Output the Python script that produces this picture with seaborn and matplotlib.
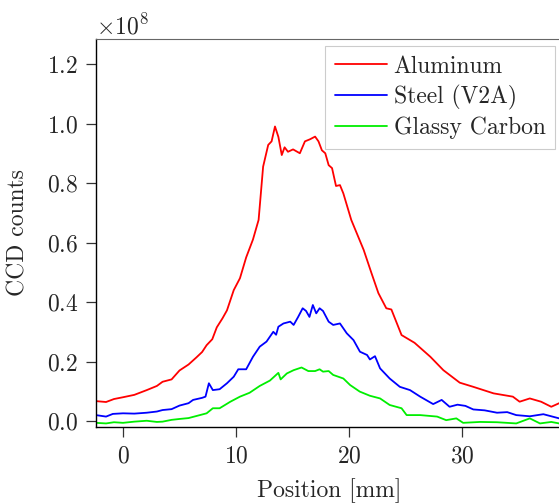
import matplotlib
matplotlib.use("Agg")
import matplotlib.pyplot as plt
import seaborn as sns
import numpy as np
import pandas as pd

# Values (counts in units of 1e8)
alu_x = [-2.4, -1.5, -0.8, 0.0, 1.0, 2.1, 3.0, 3.5, 4.3, 5.0, 5.8, 6.5, 7.0, 7.4, 7.9,
         8.3, 8.8, 9.2, 9.8, 10.35, 10.9, 11.5, 12.0, 12.4, 12.85, 13.15, 13.45, 13.75,
         14.05, 14.3, 14.6, 15.05, 15.65, 16.1, 16.55, 17.0, 17.3, 17.6, 17.9, 18.2,
         18.5, 18.85, 19.2, 19.5, 20.2, 21.3, 22.0, 22.6, 23.3, 23.75, 24.65, 25.8,
         27.2, 28.35, 29.8, 31.0, 32.8, 34.5, 35.1, 36.0, 37.0, 37.9, 38.6]
alu_y = [0.067, 0.064, 0.074, 0.080, 0.088, 0.104, 0.118, 0.132, 0.140, 0.170, 0.190,
         0.214, 0.232, 0.255, 0.275, 0.315, 0.345, 0.372, 0.44, 0.48, 0.55, 0.61, 0.676,
         0.855, 0.928, 0.94, 0.99, 0.955, 0.894, 0.92, 0.905, 0.913, 0.90, 0.94, 0.947,
         0.956, 0.94, 0.91, 0.90, 0.86, 0.85, 0.79, 0.793, 0.765, 0.676, 0.575, 0.496,
         0.43, 0.379, 0.375, 0.289, 0.263, 0.216, 0.171, 0.129, 0.115, 0.093, 0.082,
         0.065, 0.076, 0.065, 0.048, 0.06]

steel_x = [-2.4, -1.5, -0.9, 0.0, 1.0, 2.1, 3.0, 3.5, 4.3, 5.0, 5.8, 6.2, 7.0, 7.3, 7.6,
           7.95, 8.55, 9.2, 9.8, 10.2, 10.9, 11.5, 12.1, 12.7, 13.3, 13.55, 13.75, 14.2,
           14.8, 15.1, 15.5, 15.9, 16.2, 16.5, 16.8, 17.1, 17.4, 17.7, 18.2, 18.6, 19.2,
           19.8, 20.4, 20.97, 21.6, 21.85, 22.3, 22.75, 23.6, 24.5, 25.4, 26.3, 27.45,
           28.2, 28.9, 29.6, 30.3, 31.0, 32.0, 33.1, 34.0, 34.8, 36.0, 37.2, 38.0, 38.6]
steel_y = [0.020, 0.015, 0.024, 0.026, 0.025, 0.028, 0.032, 0.037, 0.040, 0.052, 0.060,
           0.071, 0.078, 0.082, 0.127, 0.104, 0.107, 0.127, 0.149, 0.174, 0.174, 0.216,
           0.250, 0.267, 0.300, 0.290, 0.317, 0.328, 0.334, 0.323, 0.350, 0.379, 0.370,
           0.350, 0.390, 0.362, 0.379, 0.370, 0.334, 0.323, 0.328, 0.295, 0.272, 0.233,
           0.222, 0.207, 0.218, 0.177, 0.143, 0.115, 0.104, 0.082, 0.057, 0.071, 0.048,
           0.055, 0.051, 0.039, 0.036, 0.028, 0.030, 0.020, 0.016, 0.023, 0.015, 0.009]

carbon_x = [-2.4, -1.5, -0.8, 0.0, 1.0, 2.1, 3.0, 3.5, 4.3, 5.0, 5.8, 6.5, 7.4, 7.95,
            8.55, 9.5, 10.35, 11.2, 12.1, 13.0, 13.75, 13.95, 14.5, 15.1, 15.8, 16.4,
            17.0, 17.4, 17.7, 18.2, 18.6, 19.5, 20.1, 20.95, 21.85, 22.75, 23.6, 24.65,
            25.1, 26.3, 27.8, 28.6, 29.5, 30.1, 31.6, 33.1, 34.8, 36.0, 36.9, 37.9, 38.6]
carbon_y = [-0.006, -0.008, -0.004, -0.006, -0.002, 0.001, -0.003, -0.002, 0.004, 0.007,
            0.010, 0.017, 0.026, 0.043, 0.043, 0.065, 0.082, 0.095, 0.118, 0.136, 0.162,
            0.140, 0.160, 0.171, 0.180, 0.168, 0.168, 0.174, 0.166, 0.168, 0.155, 0.143,
            0.121, 0.099, 0.085, 0.076, 0.054, 0.043, 0.020, 0.020, 0.015, 0.003, 0.009,
            -0.006, -0.003, -0.004, -0.008, 0.009, -0.008, -0.003, -0.008]

names = ["Aluminum", "Steel (V2A)", "Glassy Carbon"]
colors = ["#ff0000", "#0000ff", "#00ee00"]

df = pd.concat([
    pd.DataFrame({"pos": alu_x, "counts": np.array(alu_y) * 1e8, "sample": names[0]}),
    pd.DataFrame({"pos": steel_x, "counts": np.array(steel_y) * 1e8, "sample": names[1]}),
    pd.DataFrame({"pos": carbon_x, "counts": np.array(carbon_y) * 1e8, "sample": names[2]}),
])

sns.set_style("ticks")
plt.rcParams["font.family"] = ["cmr10", "DejaVu Serif"]
plt.rcParams["mathtext.fontset"] = "cm"
plt.rcParams["axes.formatter.use_mathtext"] = True
plt.rcParams["axes.unicode_minus"] = False

fs = 17
fig = plt.figure(figsize=(5.59, 5.04), dpi=100)
ax = fig.add_axes([96 / 559, 77 / 504, 466 / 559, 388 / 504])

sns.lineplot(data=df, x="pos", y="counts", hue="sample", palette=colors,
             estimator=None, sort=False, linewidth=1.3, ax=ax)

ax.set_xlim(-2.39, 38.85)
ax.set_ylim(-0.02e8, 1.284e8)
ax.set_xticks([0, 10, 20, 30])
ax.set_yticks(np.arange(0, 1.21e8, 0.2e8))
ax.ticklabel_format(axis="y", style="sci", scilimits=(8, 8))

ax.set_xlabel("Position [mm]", fontsize=fs, labelpad=8)
ax.set_ylabel("CCD counts", fontsize=fs, labelpad=12)
ax.tick_params(axis="both", labelsize=fs, length=7, width=0.9, direction="out",
               color="#333333", pad=6)
ax.yaxis.get_offset_text().set_fontsize(fs)

ax.spines["right"].set_visible(False)
ax.spines["top"].set_color("#666666")
for s in ["left", "bottom"]:
    ax.spines[s].set_color("black")
    ax.spines[s].set_linewidth(1.0)

leg = ax.legend(loc="upper right", fontsize=fs, frameon=True, fancybox=False,
                edgecolor="#cccccc", framealpha=1, borderaxespad=0.3,
                handlelength=2.2, handletextpad=0.3, labelspacing=0.3,
                borderpad=0.4)
leg.get_frame().set_linewidth(0.8)

fig.savefig("out.png", dpi=100)
